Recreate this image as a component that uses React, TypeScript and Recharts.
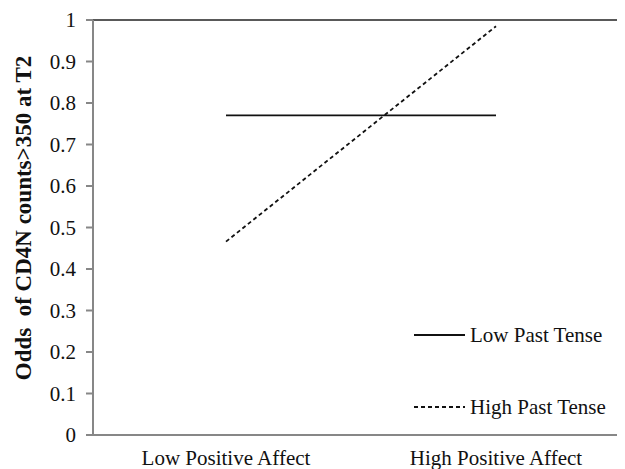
import { LineChart, Line, XAxis, YAxis, ReferenceLine, Label } from "recharts";

const categories = ["Low Positive Affect", "High Positive Affect"];
const lowPastTense = [0.77, 0.77];
const highPastTense = [0.466, 0.985];
const yTicks = [0, 0.1, 0.2, 0.3, 0.4, 0.5, 0.6, 0.7, 0.8, 0.9, 1];

const data = categories.map((name, i) => ({
  name,
  low: lowPastTense[i],
  high: highPastTense[i]
}));

const FONT = "'Liberation Serif', 'Times New Roman', serif";
const AXIS = "#878787";

const legendItems = [
  { label: "Low Past Tense", dash: undefined },
  { label: "High Past Tense", dash: "4 3" }
];

const ChartLegend = () => (
  <div
    style={{
      position: "absolute",
      left: 406,
      top: 315,
      fontFamily: FONT,
      fontSize: 21,
      color: "#111"
    }}
  >
    {legendItems.map((it, i) => (
      <div
        key={it.label}
        style={{ display: "flex", alignItems: "center", height: 24, marginBottom: i === 0 ? 48 : 0 }}
      >
        <svg width={51} height={4} style={{ marginRight: 5 }}>
          <line x1={0} y1={2} x2={51} y2={2} stroke="#111" strokeWidth={1.8} strokeDasharray={it.dash} />
        </svg>
        <span>{it.label}</span>
      </div>
    ))}
  </div>
);

const renderYLabel = () => (
  <text
    x={15}
    y={210}
    transform="rotate(-90, 15, 210)"
    textAnchor="middle"
    dominantBaseline="central"
    fontFamily={FONT}
    fontSize={23}
    fontWeight="bold"
    fill="#111"
    style={{ whiteSpace: "pre" }}
  >
    {"Odds  of CD4N counts>350 at T2"}
  </text>
);

export default function App() {
  return (
    <div style={{ position: "relative", width: 617, height: 461 }}>
      <LineChart
        width={617}
        height={461}
        data={data}
        margin={{ top: 12, right: 0, left: 0, bottom: 0 }}
      >
        <XAxis
          dataKey="name"
          height={34}
          padding={{ left: 133, right: 129 }}
          stroke={AXIS}
          strokeWidth={2}
          tickLine={false}
          tickSize={0}
          tickMargin={15}
          tick={{ fontFamily: FONT, fontSize: 21, fill: "#111" }}
        />
        <YAxis
          width={85}
          domain={[0, 1]}
          ticks={yTicks}
          interval={0}
          stroke={AXIS}
          strokeWidth={2}
          tickSize={7}
          tickMargin={10}
          tick={{ fontFamily: FONT, fontSize: 21, fill: "#111" }}
        >
          <Label content={renderYLabel} />
        </YAxis>
        <ReferenceLine y={1} stroke="#222" strokeWidth={1.5} />
        <Line
          dataKey="low"
          name="Low Past Tense"
          stroke="#111"
          strokeWidth={1.8}
          dot={false}
          isAnimationActive={false}
        />
        <Line
          dataKey="high"
          name="High Past Tense"
          stroke="#111"
          strokeWidth={1.8}
          strokeDasharray="4 3"
          dot={false}
          isAnimationActive={false}
        />
      </LineChart>
      <ChartLegend />
    </div>
  );
}
